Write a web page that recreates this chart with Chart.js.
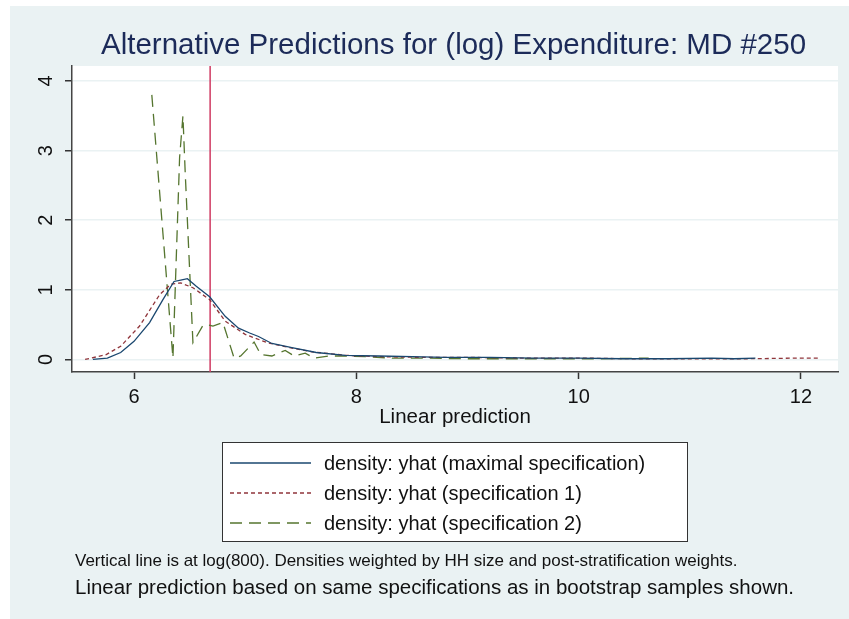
<!DOCTYPE html>
<html>
<head>
<meta charset="utf-8">
<title>Alternative Predictions for (log) Expenditure: MD #250</title>
<script src="https://cdn.jsdelivr.net/npm/chart.js@4.4.1/dist/chart.umd.min.js"></script>
<style>
    body { margin: 0; background: #fff; font-family: "Liberation Sans", Arial, sans-serif; }
    #wrap { position: relative; width: 849px; height: 619px; overflow: hidden; }
    #panel { position: absolute; left: 10px; top: 6px; right: 0; bottom: 0; background: #eaf2f3; }
    #chart { position: absolute; left: 0; top: 0; }
    .txt { position: absolute; white-space: nowrap; line-height: 1; color: #111; }
    #title { left: 101px; top: 28.5px; font-size: 29.5px; color: #1c2b59; }
    #legendBox { position: absolute; left: 222px; top: 442px; width: 464px; height: 98px; background: #fff; border: 1.5px solid #333; }
    .leg { left: 324px; font-size: 20px; }
    #note1 { left: 75px; top: 551.5px; font-size: 17px; }
    #note2 { left: 75px; top: 577px; font-size: 20.5px; }
</style>
</head>
<body>
<div id="wrap">
    <div id="panel"></div>
    <div id="legendBox"></div>
    <canvas id="chart" width="849" height="619"></canvas>
    <div class="txt" id="title">Alternative Predictions for (log) Expenditure: MD #250</div>
    <div class="txt leg" style="top:453px">density: yhat (maximal specification)</div>
    <div class="txt leg" style="top:483px">density: yhat (specification 1)</div>
    <div class="txt leg" style="top:513px">density: yhat (specification 2)</div>
    <div class="txt" id="note1">Vertical line is at log(800). Densities weighted by HH size and post-stratification weights.</div>
    <div class="txt" id="note2">Linear prediction based on same specifications as in bootstrap samples shown.</div>
</div>

<script>
// DATA

const xTicks = [6, 8, 10, 12];
const yTicks = [0, 1, 2, 3, 4];
const refLine = Math.log(800);

// density: yhat (maximal specification)
const maxX = [5.63, 5.76, 5.88, 6.0, 6.14, 6.26, 6.36, 6.42, 6.48, 6.56, 6.68, 6.82, 6.94, 7.04, 7.12, 7.24, 7.42, 7.64,
    7.9, 8.2, 8.5, 8.8, 9.2, 9.6, 10.0, 10.4, 10.8, 11.2, 11.4, 11.59];
const maxY = [0.0, 0.02, 0.10, 0.26, 0.53, 0.86, 1.12, 1.14, 1.16, 1.05, 0.90, 0.62, 0.45, 0.38, 0.33, 0.23, 0.17, 0.10,
    0.06, 0.05, 0.04, 0.03, 0.03, 0.02, 0.02, 0.01, 0.01, 0.02, 0.01, 0.02];

// density: yhat (specification 1)
const spec1X = [5.56, 5.75, 5.88, 6.05, 6.23, 6.33, 6.42, 6.53, 6.68, 6.82, 7.0, 7.2, 7.4, 7.6, 7.9, 8.2, 8.6, 9.0,
    9.5, 10.0, 10.5, 11.0, 11.5, 12.0, 12.16];
const spec1Y = [0.0, 0.07, 0.19, 0.48, 0.93, 1.08, 1.10, 1.03, 0.86, 0.55, 0.36, 0.24, 0.17, 0.11, 0.06, 0.04, 0.03, 0.03,
    0.02, 0.02, 0.01, 0.01, 0.01, 0.02, 0.02];

// density: yhat (specification 2)
const spec2X = [6.16, 6.35, 6.41, 6.44, 6.46, 6.53, 6.62, 6.66, 6.71, 6.80, 6.90, 6.96, 7.08, 7.14, 7.24, 7.36, 7.44,
    7.54, 7.62, 7.75, 7.9, 8.1, 8.3, 8.6, 9.0, 9.4, 9.8, 10.2, 10.63];
const spec2Y = [3.80, 0.02, 2.90, 3.50, 2.70, 0.24, 0.49, 0.50, 0.48, 0.53, 0.02, 0.05, 0.25, 0.07, 0.05, 0.13, 0.05,
    0.09, 0.02, 0.05, 0.05, 0.04, 0.02, 0.02, 0.01, 0.01, 0.01, 0.01, 0.02];


function points(xs, ys) {
    return xs.map((x, i) => ({ x: x, y: ys[i] }));
}

Chart.defaults.font.family = '"Liberation Sans", Arial, sans-serif';
Chart.defaults.color = "#111";

// white plot region, the log(800) line, rotated y labels, legend keys
const stataBits = {
    id: "stataBits",
    beforeDraw(chart) {
        const a = chart.chartArea;
        const ctx = chart.ctx;
        ctx.save();
        ctx.fillStyle = "#fff";
        ctx.fillRect(a.left, a.top, a.right - a.left, a.bottom - a.top);
        ctx.restore();
    },
    beforeDatasetsDraw(chart) {
        const a = chart.chartArea;
        const ctx = chart.ctx;
        const px = chart.scales.x.getPixelForValue(refLine);
        ctx.save();
        ctx.strokeStyle = "#cf3a62";
        ctx.lineWidth = 1.5;
        ctx.beginPath();
        ctx.moveTo(px, a.top);
        ctx.lineTo(px, a.bottom);
        ctx.stroke();
        ctx.restore();
    },
    afterDraw(chart) {
        const ctx = chart.ctx;
        const y = chart.scales.y;
        ctx.save();
        ctx.fillStyle = "#111";
        ctx.font = '20px "Liberation Sans", Arial, sans-serif';
        ctx.textAlign = "center";
        ctx.textBaseline = "middle";
        y.ticks.forEach(t => {
            ctx.save();
            ctx.translate(46, y.getPixelForValue(t.value));
            ctx.rotate(-Math.PI / 2);
            ctx.fillText(String(t.value), 0, 0);
            ctx.restore();
        });

        chart.data.datasets.forEach((ds, i) => {
            const ly = 463 + i * 30;
            ctx.strokeStyle = ds.borderColor;
            ctx.lineWidth = 1.5;
            ctx.setLineDash(ds.borderDash || []);
            ctx.beginPath();
            ctx.moveTo(230, ly);
            ctx.lineTo(311, ly);
            ctx.stroke();
        });
        ctx.restore();
    }
};

new Chart(document.getElementById("chart"), {
    type: "line",
    data: {
        datasets: [{
            label: "density: yhat (maximal specification)",
            data: points(maxX, maxY),
            borderColor: "#1a476f",
            borderWidth: 1.3
        }, {
            label: "density: yhat (specification 1)",
            data: points(spec1X, spec1Y),
            borderColor: "#90353b",
            borderWidth: 1.3,
            borderDash: [4, 3]
        }, {
            label: "density: yhat (specification 2)",
            data: points(spec2X, spec2Y),
            borderColor: "#55752f",
            borderWidth: 1.3,
            borderDash: [12, 7]
        }]
    },
    options: {
        responsive: false,
        animation: false,
        devicePixelRatio: 1,
        elements: {
            point: { radius: 0 },
            line: { tension: 0 }
        },
        layout: {
            padding: { left: 0, top: 66, right: 11, bottom: 187 }
        },
        plugins: {
            legend: { display: false },
            tooltip: { enabled: false }
        },
        scales: {
            x: {
                type: "linear",
                min: 5.442,
                max: 12.333,
                afterBuildTicks: s => { s.ticks = xTicks.map(v => ({ value: v })); },
                afterFit: s => { s.height = 60; },
                grid: { drawOnChartArea: false, tickLength: 7, tickColor: "#333", tickWidth: 1.5 },
                border: { color: "#444", width: 1.5 },
                ticks: { font: { size: 20 }, padding: 6, maxRotation: 0, autoSkip: false },
                title: {
                    display: true,
                    text: "Linear prediction",
                    font: { size: 20.5 },
                    padding: { top: 0, bottom: 2 }
                }
            },
            y: {
                type: "linear",
                min: -0.18,
                max: 4.215,
                afterBuildTicks: s => { s.ticks = yTicks.map(v => ({ value: v })); },
                afterFit: s => { s.width = 72; },
                grid: { color: "#eaf2f3", lineWidth: 1.5, tickLength: 7, tickColor: "#333", tickWidth: 1.5 },
                border: { color: "#444", width: 1.5 },
                ticks: { display: false }
            }
        }
    },
    plugins: [stataBits]
});
</script>
</body>
</html>
